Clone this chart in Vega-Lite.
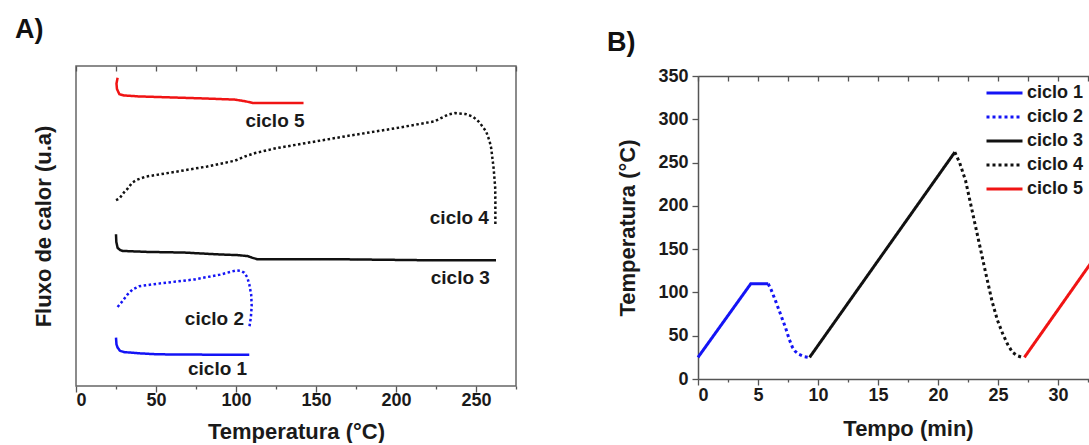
{
  "$schema": "https://vega.github.io/schema/vega-lite/v6.json",
  "background": "white",
  "padding": {"left": 14, "top": 15, "right": 0, "bottom": 0},
  "spacing": 89,
  "config": {
    "font": "Liberation Sans",
    "view": {"stroke": "#666666", "strokeWidth": 1.5},
    "axis": {
      "labelFont": "Liberation Sans", "labelFontWeight": "bold", "labelFontSize": 18, "labelColor": "#1a1a1a",
      "titleFont": "Liberation Sans", "titleFontWeight": "bold", "titleFontSize": 22, "titleColor": "#1a1a1a",
      "grid": false, "domain": false, "tickColor": "#555555", "tickWidth": 1.3,
      "domainColor": "#555555", "domainWidth": 1.5
    },
    "title": {"font": "Liberation Sans", "fontWeight": "bold", "fontSize": 27, "color": "#111111", "anchor": "start", "frame": "group"}
  },
  "resolve": {
    "scale": {"color": "independent", "strokeDash": "independent"},
    "legend": {"color": "independent", "strokeDash": "independent"}
  },
  "datasets": {
    "dsc": [
      {"ciclo": "ciclo 1", "i": 1, "temp": 25.0, "fluxo": 15.1},
      {"ciclo": "ciclo 1", "i": 2, "temp": 25.3, "fluxo": 13.0},
      {"ciclo": "ciclo 1", "i": 3, "temp": 26.0, "fluxo": 12.0},
      {"ciclo": "ciclo 1", "i": 4, "temp": 27.5, "fluxo": 11.0},
      {"ciclo": "ciclo 1", "i": 5, "temp": 30.0, "fluxo": 10.6},
      {"ciclo": "ciclo 1", "i": 6, "temp": 40.0, "fluxo": 10.2},
      {"ciclo": "ciclo 1", "i": 7, "temp": 51.0, "fluxo": 9.9},
      {"ciclo": "ciclo 1", "i": 8, "temp": 80.0, "fluxo": 9.8},
      {"ciclo": "ciclo 1", "i": 9, "temp": 108.3, "fluxo": 9.8},
      {"ciclo": "ciclo 2", "i": 1, "temp": 26.0, "fluxo": 24.7},
      {"ciclo": "ciclo 2", "i": 2, "temp": 29.0, "fluxo": 26.5},
      {"ciclo": "ciclo 2", "i": 3, "temp": 32.0, "fluxo": 28.5},
      {"ciclo": "ciclo 2", "i": 4, "temp": 35.4, "fluxo": 30.2},
      {"ciclo": "ciclo 2", "i": 5, "temp": 39.6, "fluxo": 31.2},
      {"ciclo": "ciclo 2", "i": 6, "temp": 50.0, "fluxo": 31.9},
      {"ciclo": "ciclo 2", "i": 7, "temp": 74.0, "fluxo": 33.3},
      {"ciclo": "ciclo 2", "i": 8, "temp": 90.0, "fluxo": 34.8},
      {"ciclo": "ciclo 2", "i": 9, "temp": 100.0, "fluxo": 36.1},
      {"ciclo": "ciclo 2", "i": 10, "temp": 103.0, "fluxo": 36.0},
      {"ciclo": "ciclo 2", "i": 11, "temp": 105.2, "fluxo": 35.4},
      {"ciclo": "ciclo 2", "i": 12, "temp": 107.0, "fluxo": 34.0},
      {"ciclo": "ciclo 2", "i": 13, "temp": 108.3, "fluxo": 31.8},
      {"ciclo": "ciclo 2", "i": 14, "temp": 109.5, "fluxo": 28.5},
      {"ciclo": "ciclo 2", "i": 15, "temp": 109.8, "fluxo": 25.0},
      {"ciclo": "ciclo 2", "i": 16, "temp": 109.3, "fluxo": 21.5},
      {"ciclo": "ciclo 2", "i": 17, "temp": 108.3, "fluxo": 18.2},
      {"ciclo": "ciclo 3", "i": 1, "temp": 25.0, "fluxo": 47.4},
      {"ciclo": "ciclo 3", "i": 2, "temp": 25.2, "fluxo": 45.0},
      {"ciclo": "ciclo 3", "i": 3, "temp": 26.0, "fluxo": 43.2},
      {"ciclo": "ciclo 3", "i": 4, "temp": 27.5, "fluxo": 42.5},
      {"ciclo": "ciclo 3", "i": 5, "temp": 29.2, "fluxo": 42.2},
      {"ciclo": "ciclo 3", "i": 6, "temp": 45.0, "fluxo": 41.9},
      {"ciclo": "ciclo 3", "i": 7, "temp": 67.7, "fluxo": 41.7},
      {"ciclo": "ciclo 3", "i": 8, "temp": 90.0, "fluxo": 41.1},
      {"ciclo": "ciclo 3", "i": 9, "temp": 101.0, "fluxo": 40.9},
      {"ciclo": "ciclo 3", "i": 10, "temp": 107.3, "fluxo": 40.6},
      {"ciclo": "ciclo 3", "i": 11, "temp": 110.0, "fluxo": 40.1},
      {"ciclo": "ciclo 3", "i": 12, "temp": 113.5, "fluxo": 39.6},
      {"ciclo": "ciclo 3", "i": 13, "temp": 165.6, "fluxo": 39.6},
      {"ciclo": "ciclo 3", "i": 14, "temp": 219.8, "fluxo": 39.3},
      {"ciclo": "ciclo 3", "i": 15, "temp": 262.5, "fluxo": 39.3},
      {"ciclo": "ciclo 4", "i": 1, "temp": 25.0, "fluxo": 58.1},
      {"ciclo": "ciclo 4", "i": 2, "temp": 27.1, "fluxo": 58.6},
      {"ciclo": "ciclo 4", "i": 3, "temp": 30.0, "fluxo": 60.5},
      {"ciclo": "ciclo 4", "i": 4, "temp": 32.5, "fluxo": 61.8},
      {"ciclo": "ciclo 4", "i": 5, "temp": 35.0, "fluxo": 63.5},
      {"ciclo": "ciclo 4", "i": 6, "temp": 37.9, "fluxo": 64.4},
      {"ciclo": "ciclo 4", "i": 7, "temp": 43.3, "fluxo": 65.4},
      {"ciclo": "ciclo 4", "i": 8, "temp": 60.5, "fluxo": 66.8},
      {"ciclo": "ciclo 4", "i": 9, "temp": 82.0, "fluxo": 68.6},
      {"ciclo": "ciclo 4", "i": 10, "temp": 99.2, "fluxo": 70.4},
      {"ciclo": "ciclo 4", "i": 11, "temp": 106.0, "fluxo": 71.8},
      {"ciclo": "ciclo 4", "i": 12, "temp": 112.0, "fluxo": 72.8},
      {"ciclo": "ciclo 4", "i": 13, "temp": 125.0, "fluxo": 74.3},
      {"ciclo": "ciclo 4", "i": 14, "temp": 168.0, "fluxo": 78.0},
      {"ciclo": "ciclo 4", "i": 15, "temp": 200.3, "fluxo": 80.6},
      {"ciclo": "ciclo 4", "i": 16, "temp": 224.0, "fluxo": 82.7},
      {"ciclo": "ciclo 4", "i": 17, "temp": 232.6, "fluxo": 84.8},
      {"ciclo": "ciclo 4", "i": 18, "temp": 237.0, "fluxo": 85.3},
      {"ciclo": "ciclo 4", "i": 19, "temp": 243.4, "fluxo": 85.0},
      {"ciclo": "ciclo 4", "i": 20, "temp": 248.0, "fluxo": 84.2},
      {"ciclo": "ciclo 4", "i": 21, "temp": 252.0, "fluxo": 82.5},
      {"ciclo": "ciclo 4", "i": 22, "temp": 256.3, "fluxo": 79.6},
      {"ciclo": "ciclo 4", "i": 23, "temp": 258.5, "fluxo": 76.5},
      {"ciclo": "ciclo 4", "i": 24, "temp": 259.5, "fluxo": 74.3},
      {"ciclo": "ciclo 4", "i": 25, "temp": 261.0, "fluxo": 68.1},
      {"ciclo": "ciclo 4", "i": 26, "temp": 262.0, "fluxo": 62.0},
      {"ciclo": "ciclo 4", "i": 27, "temp": 262.1, "fluxo": 57.6},
      {"ciclo": "ciclo 4", "i": 28, "temp": 262.1, "fluxo": 50.3},
      {"ciclo": "ciclo 5", "i": 1, "temp": 26.0, "fluxo": 96.3},
      {"ciclo": "ciclo 5", "i": 2, "temp": 25.3, "fluxo": 94.5},
      {"ciclo": "ciclo 5", "i": 3, "temp": 25.6, "fluxo": 92.8},
      {"ciclo": "ciclo 5", "i": 4, "temp": 27.1, "fluxo": 91.2},
      {"ciclo": "ciclo 5", "i": 5, "temp": 30.0, "fluxo": 90.8},
      {"ciclo": "ciclo 5", "i": 6, "temp": 39.0, "fluxo": 90.5},
      {"ciclo": "ciclo 5", "i": 7, "temp": 51.9, "fluxo": 90.3},
      {"ciclo": "ciclo 5", "i": 8, "temp": 77.7, "fluxo": 89.9},
      {"ciclo": "ciclo 5", "i": 9, "temp": 99.2, "fluxo": 89.5},
      {"ciclo": "ciclo 5", "i": 10, "temp": 105.6, "fluxo": 89.0},
      {"ciclo": "ciclo 5", "i": 11, "temp": 111.0, "fluxo": 88.4},
      {"ciclo": "ciclo 5", "i": 12, "temp": 142.2, "fluxo": 88.4}
    ],
    "rotulos": [
      {"rotulo": "ciclo 5", "temp": 124.4, "fluxo": 82.9},
      {"rotulo": "ciclo 4", "temp": 239.6, "fluxo": 52.6},
      {"rotulo": "ciclo 3", "temp": 240.2, "fluxo": 33.8},
      {"rotulo": "ciclo 2", "temp": 86.5, "fluxo": 20.8},
      {"rotulo": "ciclo 1", "temp": 88.5, "fluxo": 5.2}
    ],
    "programa": [
      {"ciclo": "ciclo 1", "i": 1, "tempo": 0.0, "temperatura": 25},
      {"ciclo": "ciclo 1", "i": 2, "tempo": 4.4, "temperatura": 110},
      {"ciclo": "ciclo 1", "i": 3, "tempo": 5.85, "temperatura": 110},
      {"ciclo": "ciclo 2", "i": 1, "tempo": 5.85, "temperatura": 110},
      {"ciclo": "ciclo 2", "i": 2, "tempo": 6.1, "temperatura": 103},
      {"ciclo": "ciclo 2", "i": 3, "tempo": 6.47, "temperatura": 90},
      {"ciclo": "ciclo 2", "i": 4, "tempo": 6.9, "temperatura": 74},
      {"ciclo": "ciclo 2", "i": 5, "tempo": 7.3, "temperatura": 59},
      {"ciclo": "ciclo 2", "i": 6, "tempo": 7.6, "temperatura": 46},
      {"ciclo": "ciclo 2", "i": 7, "tempo": 7.86, "temperatura": 37},
      {"ciclo": "ciclo 2", "i": 8, "tempo": 8.1, "temperatura": 32},
      {"ciclo": "ciclo 2", "i": 9, "tempo": 8.4, "temperatura": 28.5},
      {"ciclo": "ciclo 2", "i": 10, "tempo": 8.8, "temperatura": 26},
      {"ciclo": "ciclo 2", "i": 11, "tempo": 9.25, "temperatura": 25},
      {"ciclo": "ciclo 3", "i": 1, "tempo": 9.3, "temperatura": 25},
      {"ciclo": "ciclo 3", "i": 2, "tempo": 21.4, "temperatura": 262},
      {"ciclo": "ciclo 4", "i": 1, "tempo": 21.4, "temperatura": 262},
      {"ciclo": "ciclo 4", "i": 2, "tempo": 21.8, "temperatura": 250},
      {"ciclo": "ciclo 4", "i": 3, "tempo": 22.3, "temperatura": 229},
      {"ciclo": "ciclo 4", "i": 4, "tempo": 22.85, "temperatura": 194},
      {"ciclo": "ciclo 4", "i": 5, "tempo": 23.4, "temperatura": 159},
      {"ciclo": "ciclo 4", "i": 6, "tempo": 23.95, "temperatura": 124},
      {"ciclo": "ciclo 4", "i": 7, "tempo": 24.5, "temperatura": 90},
      {"ciclo": "ciclo 4", "i": 8, "tempo": 24.95, "temperatura": 68},
      {"ciclo": "ciclo 4", "i": 9, "tempo": 25.4, "temperatura": 52},
      {"ciclo": "ciclo 4", "i": 10, "tempo": 25.8, "temperatura": 40},
      {"ciclo": "ciclo 4", "i": 11, "tempo": 26.2, "temperatura": 31},
      {"ciclo": "ciclo 4", "i": 12, "tempo": 26.6, "temperatura": 27},
      {"ciclo": "ciclo 4", "i": 13, "tempo": 27.0, "temperatura": 25},
      {"ciclo": "ciclo 5", "i": 1, "tempo": 27.2, "temperatura": 25},
      {"ciclo": "ciclo 5", "i": 2, "tempo": 33.2, "temperatura": 143}
    ]
  },
  "hconcat": [
    {
      "width": 440,
      "height": 320,
      "title": {"text": "A)", "dx": -61, "offset": 21},
      "layer": [
        {
          "data": {"name": "dsc"},
          "mark": {"type": "line", "strokeWidth": 2.5},
          "encoding": {
            "x": {
              "field": "temp", "type": "quantitative",
              "scale": {"domain": [0, 275], "nice": false, "zero": false},
              "axis": {
                "title": "Temperatura (°C)",
                "values": [0, 25, 50, 75, 100, 125, 150, 175, 200, 225, 250, 275],
                "labelExpr": "datum.value % 50 === 0 ? datum.label : ''",
                "tickSize": {"condition": {"test": "datum.value % 50 === 0", "value": 6}, "value": 3},
                "labelPadding": -1,
                "titlePadding": 12
              }
            },
            "y": {
              "field": "fluxo", "type": "quantitative",
              "scale": {"domain": [0, 100], "nice": false, "zero": false},
              "axis": {"title": "Fluxo de calor (u.a)", "labels": false, "ticks": false, "titlePadding": 21}
            },
            "color": {
              "field": "ciclo", "type": "nominal",
              "scale": {"domain": ["ciclo 1", "ciclo 2", "ciclo 3", "ciclo 4", "ciclo 5"], "range": ["#1414f5", "#1414f5", "#111111", "#111111", "#f01414"]},
              "legend": null
            },
            "strokeDash": {
              "field": "ciclo", "type": "nominal",
              "scale": {"domain": ["ciclo 1", "ciclo 2", "ciclo 3", "ciclo 4", "ciclo 5"], "range": [[1, 0], [2.5, 2.5], [1, 0], [2.5, 2.5], [1, 0]]},
              "legend": null
            },
            "order": {"field": "i", "type": "quantitative"}
          }
        },
        {
          "data": {"name": "rotulos"},
          "mark": {"type": "text", "fontSize": 19, "fontWeight": "bold", "color": "#1a1a1a", "font": "Liberation Sans"},
          "encoding": {
            "x": {
              "field": "temp", "type": "quantitative",
              "axis": {"orient": "top", "values": [0, 25, 50, 75, 100, 125, 150, 175, 200, 225, 250, 275], "labels": false, "title": null, "tickSize": -5}
            },
            "y": {"field": "fluxo", "type": "quantitative"},
            "text": {"field": "rotulo"}
          }
        }
      ],
      "resolve": {"axis": {"x": "independent"}}
    },
    {
      "width": 420,
      "height": 313,
      "view": {"stroke": null},
      "title": {"text": "B)", "dx": -91, "offset": 9},
      "layer": [
        {
          "data": {"name": "programa"},
          "mark": {"type": "line", "strokeWidth": 3},
          "encoding": {
            "x": {
              "field": "tempo", "type": "quantitative",
              "scale": {"domain": [0, 35], "nice": false, "zero": false},
              "axis": {
                "title": "Tempo (min)",
                "domain": true,
                "values": [0, 2.5, 5, 7.5, 10, 12.5, 15, 17.5, 20, 22.5, 25, 27.5, 30, 32.5, 35],
                "labelExpr": "datum.value % 5 === 0 && datum.value < 35 ? datum.label : ''",
                "tickSize": {"condition": {"test": "datum.value % 5 === 0", "value": 6}, "value": 3},
                "labelPadding": 1,
                "titlePadding": 14
              }
            },
            "y": {
              "field": "temperatura", "type": "quantitative",
              "scale": {"domain": [0, 350], "range": [313, 10], "nice": false},
              "axis": {
                "title": "Temperatura (°C)",
                "domain": true,
                "values": [0, 25, 50, 75, 100, 125, 150, 175, 200, 225, 250, 275, 300, 325, 350],
                "labelExpr": "datum.value % 50 === 0 ? datum.label : ''",
                "tickSize": {"condition": {"test": "datum.value % 50 === 0", "value": 6}, "value": 3},
                "labelPadding": 4,
                "titlePadding": 18
              }
            },
            "color": {
              "field": "ciclo", "type": "nominal",
              "scale": {"domain": ["ciclo 1", "ciclo 2", "ciclo 3", "ciclo 4", "ciclo 5"], "range": ["#1414f5", "#1414f5", "#111111", "#111111", "#f01414"]},
              "legend": {
                "title": null, "orient": "none", "legendX": 287, "legendY": 15,
                "symbolType": "stroke", "symbolSize": 1296, "symbolStrokeWidth": 3,
                "labelFont": "Liberation Sans", "labelFontSize": 18, "labelFontWeight": "bold", "labelColor": "#1a1a1a",
                "labelOffset": 3, "rowPadding": 0, "clipHeight": 24, "padding": 0
              }
            },
            "strokeDash": {
              "field": "ciclo", "type": "nominal",
              "scale": {"domain": ["ciclo 1", "ciclo 2", "ciclo 3", "ciclo 4", "ciclo 5"], "range": [[1, 0], [3, 3], [1, 0], [3, 3], [1, 0]]},
              "legend": {
                "title": null, "orient": "none", "legendX": 287, "legendY": 15,
                "symbolType": "stroke", "symbolSize": 1296, "symbolStrokeWidth": 3,
                "labelFont": "Liberation Sans", "labelFontSize": 18, "labelFontWeight": "bold", "labelColor": "#1a1a1a",
                "labelOffset": 3, "rowPadding": 0, "clipHeight": 24, "padding": 0
              }
            },
            "order": {"field": "i", "type": "quantitative"}
          }
        },
        {
          "data": {"name": "programa"},
          "mark": {"type": "line", "opacity": 0},
          "encoding": {
            "x": {
              "field": "tempo", "type": "quantitative",
              "axis": {"orient": "top", "offset": -10, "domain": true, "values": [0, 2.5, 5, 7.5, 10, 12.5, 15, 17.5, 20, 22.5, 25, 27.5, 30, 32.5, 35], "labels": false, "title": null, "tickSize": -5}
            },
            "y": {"field": "temperatura", "type": "quantitative"},
            "detail": {"field": "ciclo"},
            "order": {"field": "i", "type": "quantitative"}
          }
        }
      ],
      "resolve": {"axis": {"x": "independent"}}
    }
  ]
}
